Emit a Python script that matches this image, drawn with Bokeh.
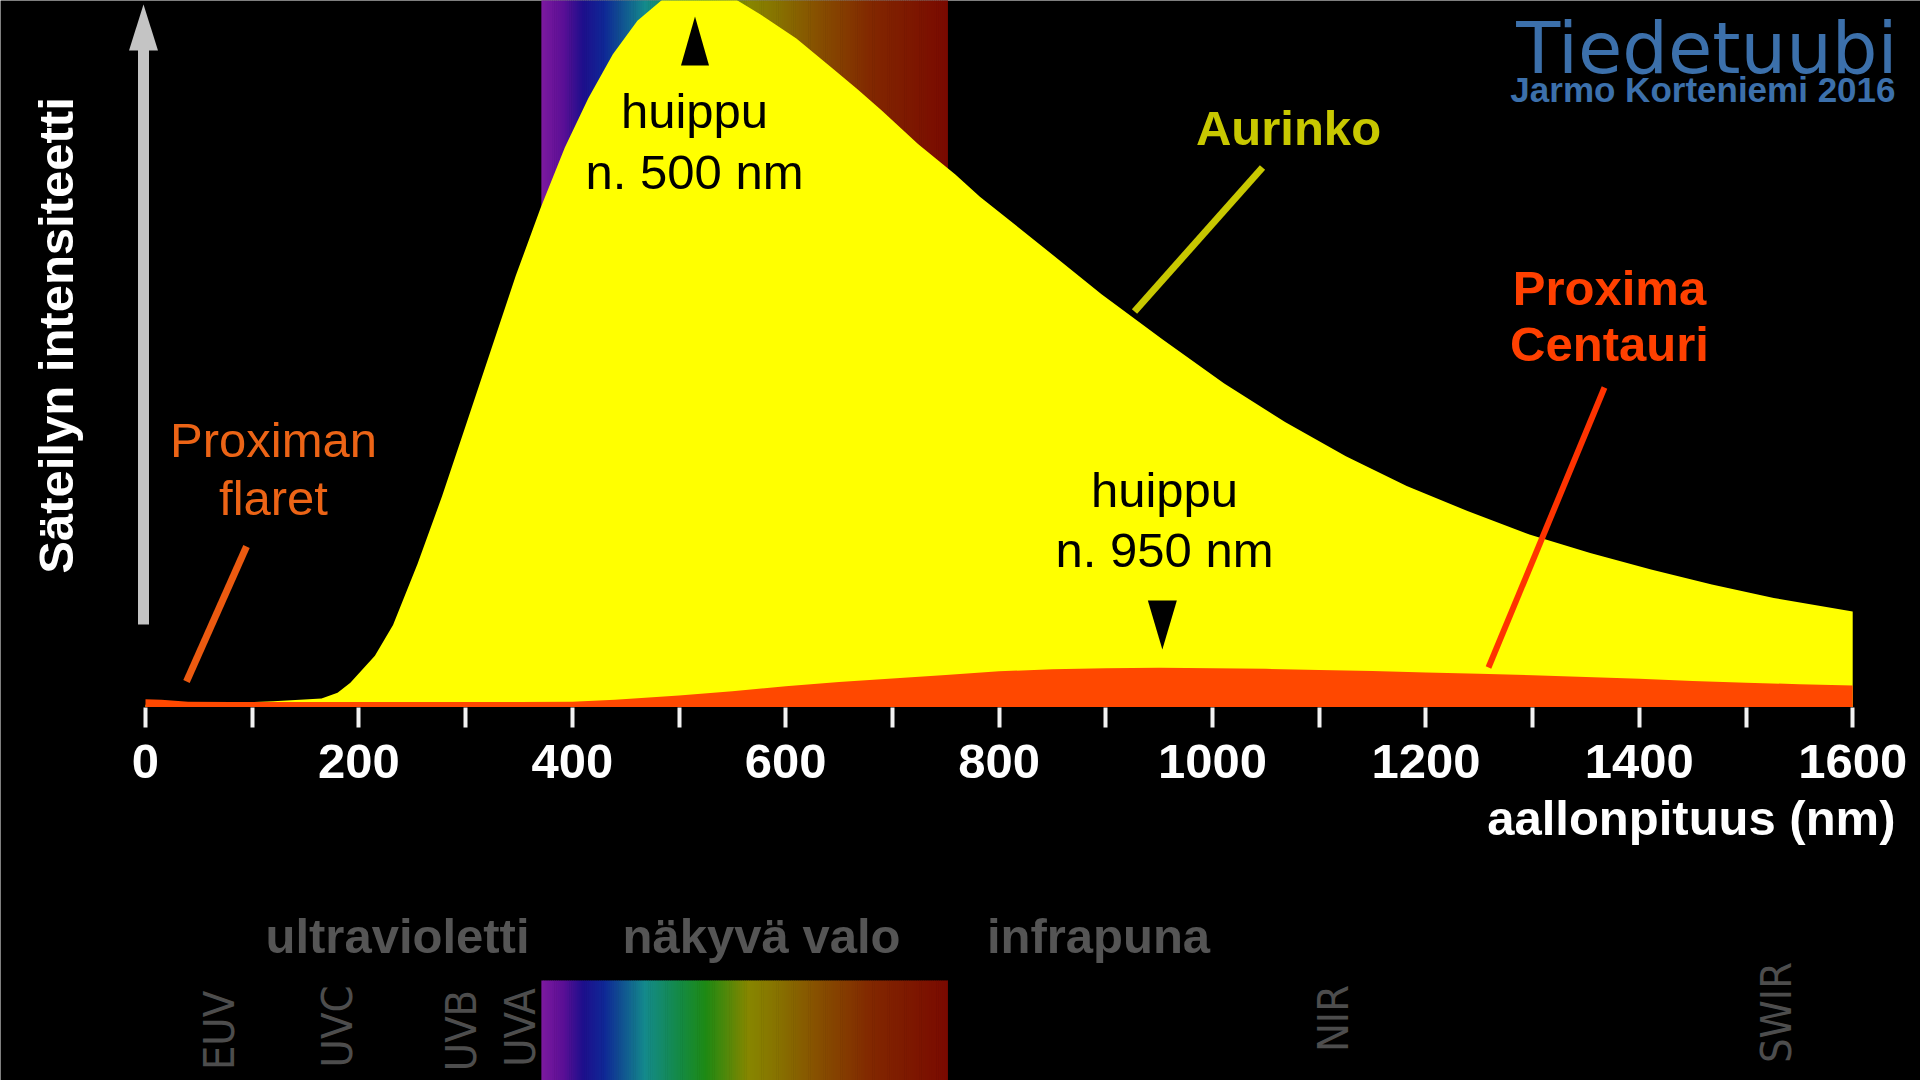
import numpy as np
from bokeh.plotting import figure
from bokeh.models import LinearAxis, FixedTicker, Range1d
from bokeh.core.properties import value
from bokeh.embed import file_html
from bokeh.resources import INLINE

# ---------------- data ----------------
sun_nm = [0, 60, 120, 165, 180, 192, 215, 232, 255, 278, 301, 324, 347, 370, 393,
          415, 438, 461, 484, 507, 530, 553, 576, 610, 644, 667, 690, 724, 759,
          782, 839, 896, 953, 1011, 1068, 1125, 1182, 1239, 1297, 1354, 1411,
          1468, 1526, 1600]
sun_int = [0.3, 0.5, 0.8, 1.2, 2.0, 3.4, 7.2, 11.5, 20.1, 29.6, 39.9, 50.2, 60.5,
           69.9, 78.5, 85.4, 91.6, 96.3, 99.2, 100.4, 100.5, 99.3, 97.2, 93.8, 89.6,
           86.7, 83.7, 79.0, 74.7, 71.6, 64.8, 57.9, 51.6, 45.4, 40.0, 35.2, 31.0,
           27.5, 24.2, 21.6, 19.3, 17.2, 15.3, 13.4]

prox_nm = [0, 15, 40, 80, 150, 250, 350, 400, 440, 500, 550, 600, 650, 700, 750,
           800, 850, 900, 950, 1000, 1050, 1100, 1150, 1200, 1250, 1300, 1350,
           1400, 1450, 1500, 1550, 1600]
prox_int = [1.1, 1.0, 0.75, 0.7, 0.7, 0.7, 0.7, 0.75, 1.0, 1.6, 2.2, 2.9, 3.5, 4.0,
            4.5, 5.0, 5.3, 5.45, 5.5, 5.45, 5.35, 5.2, 5.05, 4.85, 4.65, 4.45,
            4.2, 3.95, 3.65, 3.4, 3.2, 3.0]

tick_nm = list(range(0, 1601, 100))
tick_text = {t: (str(t) if t % 200 == 0 else "") for t in tick_nm}

visible_nm = [371, 752]
spec_stop_nm = [371, 392, 410, 430, 468, 500, 525, 565, 592, 630, 680, 752]
spec_stop_rgb = [(125, 26, 160), (90, 15, 150), (30, 15, 140), (15, 40, 150),
                 (20, 138, 140), (20, 138, 70), (30, 138, 20), (135, 135, 0),
                 (135, 115, 0), (135, 80, 0), (130, 40, 0), (122, 10, 0)]

region_names = ["ultravioletti", "näkyvä valo", "infrapuna"]
band_names = ["EUV", "UVC", "UVB", "UVA", "NIR", "SWIR"]

sun_peak_label = ["huippu", "n. 500 nm"]
prox_peak_label = ["huippu", "n. 950 nm"]
sun_peak_marker_nm = 515
prox_peak_marker_nm = 953

# ---------------- geometry helpers (image pixels -> data) ----------------
PX0, PPN = 145.0, 1.067      # x pixel of 0 nm, pixels per nm
BASE, PPU = 706.5, 7.127     # y pixel of zero intensity, pixels per unit


def X(px):
    return (px - PX0) / PPN


def Y(py):
    return (BASE - py) / PPU


W, H = 1920, 1080
p = figure(width=W, height=H, output_backend="svg", toolbar_location=None,
           x_range=Range1d(X(0), X(W)), y_range=Range1d(Y(H), Y(0)),
           x_axis_location=None, y_axis_location=None, min_border=0)
p.background_fill_color = "black"
p.border_fill_color = "black"
p.outline_line_color = None
p.xgrid.visible = False
p.ygrid.visible = False

# ---------------- visible-light gradient (plot band + bottom bar) ----------------
step = 2.0
left = np.arange(visible_nm[0], visible_nm[1], step)
right = np.minimum(left + step + 0.6, visible_nm[1])
mid = left + step / 2
stops = np.array(spec_stop_rgb, dtype=float)
cols = []
for m in mid:
    r = np.interp(m, spec_stop_nm, stops[:, 0])
    g = np.interp(m, spec_stop_nm, stops[:, 1])
    b = np.interp(m, spec_stop_nm, stops[:, 2])
    cols.append("#%02x%02x%02x" % (int(r), int(g), int(b)))
p.quad(left=left, right=right, bottom=0, top=Y(-20), fill_color=cols, line_color=None)
p.quad(left=left, right=right, bottom=Y(1100), top=Y(980), fill_color=cols, line_color=None)

# ---------------- spectra ----------------
p.varea(x=sun_nm, y1=[0] * len(sun_nm), y2=sun_int, fill_color="#ffff00")
p.varea(x=prox_nm, y1=[0] * len(prox_nm), y2=prox_int, fill_color="#ff4800")

# ---------------- x axis ----------------
xaxis = LinearAxis(fixed_location=0, ticker=FixedTicker(ticks=tick_nm),
                   major_label_overrides=tick_text)
xaxis.axis_line_color = None
xaxis.minor_tick_line_color = None
xaxis.major_tick_line_color = "#f2f2f2"
xaxis.major_tick_line_width = 4
xaxis.major_tick_in = 0
xaxis.major_tick_out = 20
xaxis.major_label_standoff = 18
xaxis.major_label_text_color = "white"
xaxis.major_label_text_font = "Liberation Sans"
xaxis.major_label_text_font_style = "bold"
xaxis.major_label_text_font_size = "49px"
p.add_layout(xaxis, "below")

# ---------------- helpers for text / shapes ----------------
SANS = value("Liberation Sans")
COND = value("DejaVu Sans Condensed")
DEJAVU = value("DejaVu Sans")


def txt(xp, base_y, s, size, color, bold=False, align="center", font=SANS):
    # positioned by the alphabetic baseline (image px), drawn with a middle anchor
    p.text(x=[X(xp)], y=[Y(base_y - 0.347 * size)], text=[s], text_font=font,
           text_font_size=value(f"{size}px"), text_color=color,
           text_font_style="bold" if bold else "normal",
           text_align=align, text_baseline="middle")


def vtxt(xc, yc, s, size, color, bold=False, font=SANS):
    p.text(x=[X(xc)], y=[Y(yc)], text=[s], text_font=font,
           text_font_size=value(f"{size}px"), text_color=color,
           text_font_style="bold" if bold else "normal",
           text_align="center", text_baseline="middle", angle=np.pi / 2)


def seg(x0, y0, x1, y1, color, width):
    p.segment(x0=[X(x0)], y0=[Y(y0)], x1=[X(x1)], y1=[Y(y1)],
              line_color=color, line_width=width, line_cap="butt")


# intensity arrow (y axis)
seg(143, 624, 143, 48, "#c4c4c4", 11)
p.patch(x=[X(143), X(143 - 14.5), X(143 + 14.5)], y=[Y(4), Y(50), Y(50)],
        fill_color="#c4c4c4", line_color=None)
vtxt(55, 335, "Säteilyn intensiteetti", 49, "white", bold=True)

# peak markers
sx = sun_peak_marker_nm
p.patch(x=[sx, sx - 14 / PPN, sx + 14 / PPN], y=[Y(16), Y(65), Y(65)],
        fill_color="black", line_color=None)
px_ = prox_peak_marker_nm
p.patch(x=[px_, px_ - 14.5 / PPN, px_ + 14.5 / PPN], y=[Y(649), Y(600), Y(600)],
        fill_color="black", line_color=None)

txt(694, 128, sun_peak_label[0], 49, "black")
txt(694, 189, sun_peak_label[1], 49, "black")
txt(1164, 507, prox_peak_label[0], 49, "black")
txt(1164, 567, prox_peak_label[1], 49, "black")

# series labels with pointer lines
txt(1288, 145, "Aurinko", 49, "#c8c800", bold=True)
seg(1262, 167, 1134, 311, "#c8c800", 7)

txt(1609, 305, "Proxima", 49, "#ff4000", bold=True)
txt(1609, 361, "Centauri", 49, "#ff4000", bold=True)
seg(1604, 387, 1488, 667, "#ff3300", 6)

txt(273, 457, "Proximan", 49, "#ec6416")
txt(273, 515, "flaret", 49, "#ec6416")
seg(246, 546, 186, 681, "#ec5a10", 7)

# axis title
txt(1895, 835, "aallonpituus (nm)", 49, "white", bold=True, align="right")

# regions
for name, xc in zip(region_names, [397, 761, 1098]):
    txt(xc, 953, name, 49, "#555555", bold=True)

for name, xc, yc in zip(band_names, [218, 336, 460, 519, 1332, 1775],
                        [1030, 1026, 1030, 1027, 1018, 1012]):
    vtxt(xc, yc, name, 43, "#4d4d4d", font=COND)

# brand
txt(1897, 72, "Tiedetuubi", 72, "#3c70ab", align="right", font=DEJAVU)
txt(1895, 101, "Jarmo Korteniemi 2016", 35, "#3c70ab", bold=True, align="right")

open("out.html", "w").write(file_html(p, INLINE))
